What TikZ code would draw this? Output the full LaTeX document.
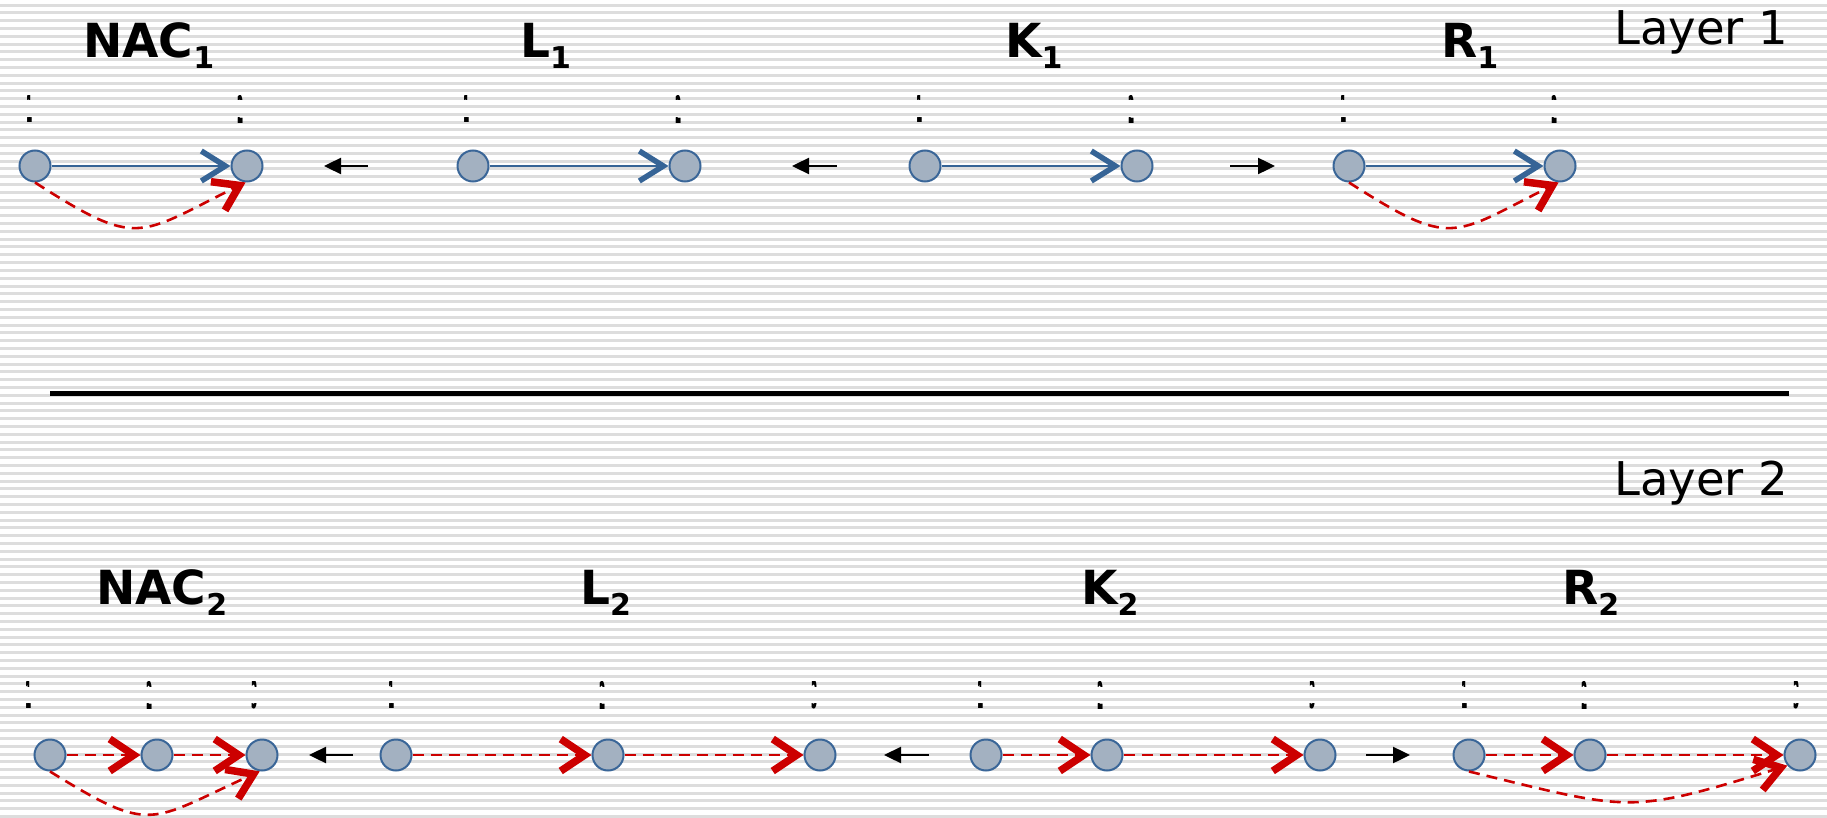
\documentclass[tikz,border=0pt]{standalone}
\usepackage{fontspec}
\usepackage{graphicx}
\setmainfont{DejaVu Sans}
\usetikzlibrary{arrows.meta}

\definecolor{stripegray}{RGB}{221,221,221}
\definecolor{vertexfill}{RGB}{163,177,193}
\definecolor{vertexedge}{RGB}{58,102,152}
\definecolor{edgeblue}{RGB}{54,100,150}
\definecolor{edgered}{RGB}{204,0,0}

\tikzset{
  vertex/.style={circle, draw=vertexedge, fill=vertexfill, line width=2pt,
    minimum size=31pt, inner sep=0pt},
  blueedge/.style={draw=edgeblue, line width=2pt,
    -{Straight Barb[sharp,length=24pt,width=30pt,line width=5.5pt]}},
  rededge/.style={draw=edgered, line width=2.6pt, dash pattern=on 11pt off 7pt,
    -{Straight Barb[sharp,length=24pt,width=32pt,line width=7.5pt]}},
  morph/.style={line width=2.4pt, -{Triangle[length=17pt,width=16pt]}},
  graphtitle/.style={anchor=base west, inner sep=0pt,
    font=\fontsize{47}{47}\selectfont\bfseries},
  layerlbl/.style={anchor=base west, inner sep=0pt,
    font=\fontsize{46.5}{46.5}\selectfont},
  digitlbl/.style={inner sep=0pt, font=\fontsize{38}{38}\selectfont\bfseries},
}

% vertex number: only two thin slices of the glyph show through
\newcommand\tagdigit[4]{%
  \begin{scope}
    \clip ({#2-12},{#3-14}) rectangle ({#2+12},{#3-9})
          ({#2-12},{#3+8}) rectangle ({#2+12},{#3+14});
    \node[digitlbl] (#1) at (#2,#3) {\scalebox{0.24}[1]{#4}};
  \end{scope}}
\newcommand\subidx[1]{\raisebox{-11pt}{\fontsize{30}{30}\selectfont #1}}

\begin{document}
\begin{tikzpicture}[x=1pt,y=-1pt]
  \useasboundingbox (0,0) rectangle (1827,818);
  \fill[white] (0,0) rectangle (1827,818);
  % striped background
  \foreach \k in {0,...,104}
    \fill[stripegray] (0,{3.7+7.8*\k}) rectangle (1827,{6.7+7.8*\k});

  % ---------------- Layer 1 ----------------
  \node[layerlbl] (lay1) at (1614,45) {Layer 1};
  \node[graphtitle] (tNAC1) at (83,58) {NAC\subidx{1}};
  \node[graphtitle] (tL1) at (520,58) {L\subidx{1}};
  \node[graphtitle] (tK1) at (1005,58) {K\subidx{1}};
  \node[graphtitle] (tR1) at (1441,58) {R\subidx{1}};

  \node[vertex] (nA1) at (35,166) {};
  \node[vertex] (nA2) at (247,166) {};
  \node[vertex] (lA1) at (473,166) {};
  \node[vertex] (lA2) at (685,166) {};
  \node[vertex] (kA1) at (925,166) {};
  \node[vertex] (kA2) at (1137,166) {};
  \node[vertex] (rA1) at (1349,166) {};
  \node[vertex] (rA2) at (1560,166) {};

  \tagdigit{dnA1}{30}{109}{1}
  \tagdigit{dnA2}{241}{109}{2}
  \tagdigit{dlA1}{467}{109}{1}
  \tagdigit{dlA2}{679}{109}{2}
  \tagdigit{dkA1}{920}{109}{1}
  \tagdigit{dkA2}{1132}{109}{2}
  \tagdigit{drA1}{1344}{109}{1}
  \tagdigit{drA2}{1555}{109}{2}

  \draw[blueedge] (nA1) -- (nA2);
  \draw[blueedge] (lA1) -- (lA2);
  \draw[blueedge] (kA1) -- (kA2);
  \draw[blueedge] (rA1) -- (rA2);
  \draw[rededge] (nA1.south) .. controls (139,249) and (137,236) .. (nA2.-95);
  \draw[rededge] (rA1.south) .. controls (1453,249) and (1451,236) .. (rA2.-95);

  \coordinate (mA1s) at (368,166); \coordinate (mA1t) at (324,166);
  \coordinate (mA2s) at (837,166); \coordinate (mA2t) at (792,166);
  \coordinate (mA3s) at (1230,166); \coordinate (mA3t) at (1275,166);
  \draw[morph] (mA1s) -- (mA1t);
  \draw[morph] (mA2s) -- (mA2t);
  \draw[morph] (mA3s) -- (mA3t);

  % separator
  \coordinate (sepL) at (50,393.5);
  \coordinate (sepR) at (1789,393.5);
  \draw[line width=5pt] (sepL) -- (sepR);

  % ---------------- Layer 2 ----------------
  \node[layerlbl] (lay2) at (1614,495) {Layer 2};
  \node[graphtitle] (tNAC2) at (96,604) {NAC\subidx{2}};
  \node[graphtitle] (tL2) at (580,604) {L\subidx{2}};
  \node[graphtitle] (tK2) at (1081,604) {K\subidx{2}};
  \node[graphtitle] (tR2) at (1562,604) {R\subidx{2}};

  \node[vertex] (nB1) at (50,755) {};
  \node[vertex] (nB2) at (157,755) {};
  \node[vertex] (nB3) at (262,755) {};
  \node[vertex] (lB1) at (396,755) {};
  \node[vertex] (lB2) at (608,755) {};
  \node[vertex] (lB3) at (820,755) {};
  \node[vertex] (kB1) at (986,755) {};
  \node[vertex] (kB2) at (1107,755) {};
  \node[vertex] (kB3) at (1320,755) {};
  \node[vertex] (rB1) at (1469,755) {};
  \node[vertex] (rB2) at (1590,755) {};
  \node[vertex] (rB3) at (1800,755) {};

  \tagdigit{dnB1}{29}{695}{1}
  \tagdigit{dnB2}{150}{695}{2}
  \tagdigit{dnB3}{255}{695}{3}
  \tagdigit{dlB1}{392}{695}{1}
  \tagdigit{dlB2}{603}{695}{2}
  \tagdigit{dlB3}{815}{695}{3}
  \tagdigit{dkB1}{981}{695}{1}
  \tagdigit{dkB2}{1101}{695}{2}
  \tagdigit{dkB3}{1313}{695}{3}
  \tagdigit{drB1}{1465}{695}{1}
  \tagdigit{drB2}{1585}{695}{2}
  \tagdigit{drB3}{1797}{695}{3}

  \draw[rededge] (nB1) -- (nB2);
  \draw[rededge] (nB2) -- (nB3);
  \draw[rededge] (lB1) -- (lB2);
  \draw[rededge] (lB2) -- (lB3);
  \draw[rededge] (kB1) -- (kB2);
  \draw[rededge] (kB2) -- (kB3);
  \draw[rededge] (rB1) -- (rB2);
  \draw[rededge] (rB2) -- (rB3);
  \draw[rededge] (nB1.south) .. controls (153,835) and (148,822) .. (nB3.-98);
  \draw[rededge] (rB1.south) .. controls (1632,811) and (1627,815) .. (rB3.-140);

  \coordinate (mB1s) at (353,755); \coordinate (mB1t) at (309,755);
  \coordinate (mB2s) at (929,755); \coordinate (mB2t) at (884,755);
  \coordinate (mB3s) at (1366,755); \coordinate (mB3t) at (1410,755);
  \draw[morph] (mB1s) -- (mB1t);
  \draw[morph] (mB2s) -- (mB2t);
  \draw[morph] (mB3s) -- (mB3t);
\end{tikzpicture}
\end{document}
